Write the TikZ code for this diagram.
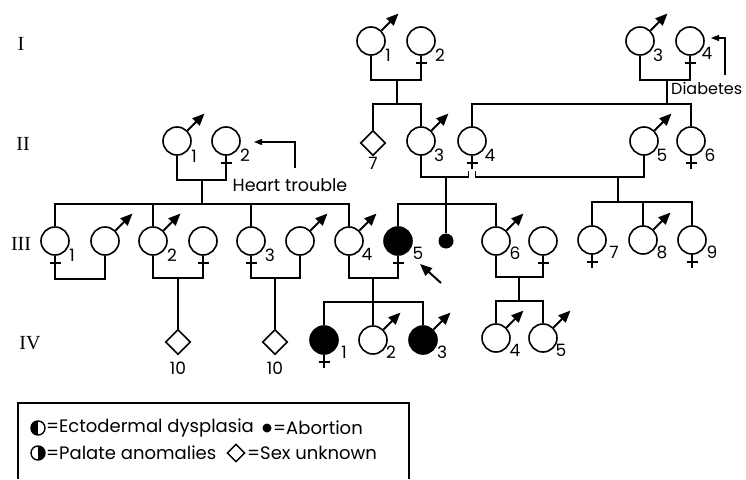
\documentclass[tikz,border=0pt]{standalone}
\usepackage{fontspec}
\setsansfont{Poppins}
\newfontfamily\genfont{Liberation Serif}
\usetikzlibrary{arrows.meta,shapes.geometric,calc}
\tikzset{
  pl/.style={line width=1.6pt},
  per/.style={circle, draw, line width=1.6pt, minimum size=28pt, inner sep=0pt},
  aff/.style={per, fill=black},
  abort/.style={circle, fill=black, minimum size=15pt, inner sep=0pt},
  dia/.style={diamond, draw, line width=1.6pt, minimum size=25pt, inner sep=0pt},
  marr/.style={line width=2pt, -{Triangle[length=12pt,width=10pt]}},
  noteline/.style={line width=1.2pt, -{Triangle[length=8pt,width=6pt]}},
  lab/.style={font=\sffamily\fontsize{17}{17}\selectfont, inner sep=0pt},
  gen/.style={font=\genfont\fontsize{20}{20}\selectfont, inner sep=0pt},
  note/.style={font=\sffamily\fontsize{17.5}{17.5}\selectfont, inner sep=0pt},
  legtext/.style={font=\sffamily\fontsize{18}{18}\selectfont, inner sep=0pt, anchor=west},
  halfl/.style={circle, draw, line width=1.4pt, minimum size=14pt, inner sep=0pt,
    path picture={\fill (path picture bounding box.north west) rectangle (path picture bounding box.south);}},
  halfr/.style={circle, draw, line width=1.4pt, minimum size=14pt, inner sep=0pt,
    path picture={\fill (path picture bounding box.north east) rectangle (path picture bounding box.south);}}
}
\newcommand\mal[1]{\draw[marr] (#1.45) -- ++(17,-17);}
\newcommand\fem[1]{\draw[pl] (#1.south) -- ++(0,13) coordinate (#1-x); \draw[pl] (#1.south) ++(-5.5,7) -- ++(11,0);}
\begin{document}
\begin{tikzpicture}[x=1pt,y=-1pt]
\useasboundingbox (0,0) rectangle (746,479);
% generation labels
\node[gen] (gI) at (21,44) {I};
\node[gen] (gII) at (23,144) {II};
\node[gen] (gIII) at (21,244) {III};
\node[gen] (gIV) at (30,343) {IV};
% generation I
\node[per] (I1) at (371,41) {}; \mal{I1}
\node[per] (I2) at (421,41) {}; \fem{I2}
\node[per] (I3) at (640,41) {}; \mal{I3}
\node[per] (I4) at (690,41) {}; \fem{I4}
\node[lab] (I1l) at (388,55) {1};
\node[lab] (I2l) at (440,55) {2};
\node[lab] (I3l) at (658,55) {3};
\node[lab] (I4l) at (707,53) {4};
% generation II
\node[per] (II1) at (177,141) {}; \mal{II1}
\node[per] (II2) at (226,141) {}; \fem{II2}
\node[dia] (II7) at (373,143) {};
\node[per] (II3) at (421,141) {}; \mal{II3}
\node[per] (II4) at (472,141) {}; \fem{II4}
\node[per] (II5) at (644,141) {}; \mal{II5}
\node[per] (II6) at (691,141) {}; \fem{II6}
\node[lab] (II1l) at (194,156) {1};
\node[lab] (II2l) at (245,155) {2};
\node[lab] (II7l) at (373,163) {7};
\node[lab] (II3l) at (439,155) {3};
\node[lab] (II4l) at (490,155) {4};
\node[lab] (II5l) at (662,155) {5};
\node[lab] (II6l) at (710,155) {6};
% generation III
\node[per] (III1) at (55,241) {}; \fem{III1}
\node[per] (III1s) at (105,241) {}; \mal{III1s}
\node[per] (III2) at (153,241) {}; \mal{III2}
\node[per] (III2s) at (203,241) {}; \fem{III2s}
\node[per] (III3) at (251,241) {}; \fem{III3}
\node[per] (III3s) at (300,241) {}; \mal{III3s}
\node[per] (III4) at (349,241) {}; \mal{III4}
\node[aff] (III5) at (398,241) {}; \fem{III5}
\node[abort] (Ab) at (446,241) {};
\node[per] (III6) at (496,241) {}; \mal{III6}
\node[per] (III6s) at (543,241) {}; \fem{III6s}
\node[per] (III7) at (592,240) {}; \fem{III7}
\node[per] (III8) at (643,240) {}; \mal{III8}
\node[per] (III9) at (692,240) {}; \fem{III9}
\node[lab] (III1l) at (72,255) {1};
\node[lab] (III2l) at (172,255) {2};
\node[lab] (III3l) at (270,255) {3};
\node[lab] (III4l) at (367,254) {4};
\node[lab] (III5l) at (418,253) {5};
\node[lab] (III6l) at (515,253) {6};
\node[lab] (III7l) at (614,252) {7};
\node[lab] (III8l) at (662,252) {8};
\node[lab] (III9l) at (712,252) {9};
% generation IV
\node[dia] (D1) at (178,342) {};
\node[dia] (D2) at (275,342) {};
\node[aff] (IV1) at (324,340) {}; \fem{IV1}
\node[per] (IV2) at (373,340) {}; \mal{IV2}
\node[aff] (IV3) at (423,340) {}; \mal{IV3}
\node[per] (IV4) at (496,338) {}; \mal{IV4}
\node[per] (IV5) at (543,338) {}; \mal{IV5}
\node[lab] (D1l) at (178,368) {10};
\node[lab] (D2l) at (275,368) {10};
\node[lab] (IV1l) at (344,352) {1};
\node[lab] (IV2l) at (391,352) {2};
\node[lab] (IV3l) at (442,352) {3};
\node[lab] (IV4l) at (515,350) {4};
\node[lab] (IV5l) at (561,350) {5};
% coordinates for matings and sibships
\coordinate (m1) at (397,80);  \coordinate (s1) at (397,104);
\coordinate (m2) at (667,80);  \coordinate (s2) at (667,104);
\coordinate (m3) at (202,180); \coordinate (s3) at (202,204);
\coordinate (m4) at (446,177); \coordinate (s4) at (446,204);
\coordinate (m5) at (618,177); \coordinate (s5) at (618,202);
\coordinate (m6) at (178,278);
\coordinate (m7) at (275,278);
\coordinate (m8) at (373,278); \coordinate (s8) at (373,302);
\coordinate (m9) at (519,277); \coordinate (s9) at (519,301);
% generation I families
\draw[pl] (I1.south) |- (m1) -| (I2-x);
\draw[pl] (m1) -- (s1);
\draw[pl] (II7.north) |- (s1) -| (II3.north);
\draw[pl] (I3.south) |- (m2) -| (I4-x);
\draw[pl] (m2) -- (s2);
\draw[pl] (II4.north) |- (s2) -| (II6.north);
% generation II families
\draw[pl] (II1.south) |- (m3) -| (II2-x);
\draw[pl] (m3) -- (s3);
\draw[pl] (III1.north) |- (s3) -| (III4.north);
\draw[pl] (III2.north) -- (III2.north |- s3);
\draw[pl] (III3.north) -- (III3.north |- s3);
\draw[pl] (II3.south) |- (m4) -| ($(II4-x)+(-3.5,2)$);
\draw[pl] (II5.south) |- (m5) -| ($(II4-x)+(3.5,2)$);
\draw[pl] (m4) -- (s4);
\draw[pl] (III5.north) |- (s4) -| (III6.north);
\draw[pl] (Ab.north) -- (Ab.north |- s4);
\draw[pl] (m5) -- (s5);
\draw[pl] (III7.north) |- (s5) -| (III9.north);
\draw[pl] (III8.north) -- (III8.north |- s5);
% generation III families
\draw[pl] (III1-x) -- ++(0,10) -| (III1s.south);
\draw[pl] (III2.south) |- (m6) -| (III2s-x);
\draw[pl] (m6) -- (D1.north);
\draw[pl] (III3-x) |- (m7) -| (III3s.south);
\draw[pl] (m7) -- (D2.north);
\draw[pl] (III4.south) |- (m8) -| (III5-x);
\draw[pl] (m8) -- (s8);
\draw[pl] (IV1.north) |- (s8) -| (IV3.north);
\draw[pl] (IV2.north) -- (IV2.north |- s8);
\draw[pl] (III6.south) |- (m9) -| (III6s-x);
\draw[pl] (m9) -- (s9);
\draw[pl] (IV4.north) |- (s9) -| (IV5.north);
% notes
\node[note] (ht) at (290,185) {Heart trouble};
\coordinate (hta) at (295,168); \coordinate (htb) at (254,142);
\draw[noteline] (hta) |- (htb);
\node[note, font=\sffamily\fontsize{16}{16}\selectfont, anchor=west] (db) at (671,88) {Diabetes};
\coordinate (dba) at (725,75); \coordinate (dbb) at (711,38);
\draw[noteline] (dba) |- (dbb);
% proband arrow
\coordinate (pa) at (441,283); \coordinate (pb) at (420,264);
\draw[marr] (pa) -- (pb);
% legend
\draw[line width=1.3pt] (18,479) -- (18,403) -- (409,403) -- (409,479);
\node[halfl] (lg1) at (38,428) {};
\node[halfr] (lg2) at (38,453) {};
\node[legtext] (lt1) at (46,428) {=Ectodermal dysplasia};
\node[circle, fill=black, minimum size=9pt, inner sep=0pt] (lab1) at (267,428) {};
\node[legtext] (lt2) at (273,428) {=Abortion};
\node[legtext] (lt3) at (46,453) {=Palate anomalies};
\node[diamond, draw, line width=1.4pt, minimum size=18pt, inner sep=0pt] (ldia) at (236,453) {};
\node[legtext] (lt4) at (247,453) {=Sex unknown};
\end{tikzpicture}
\end{document}
